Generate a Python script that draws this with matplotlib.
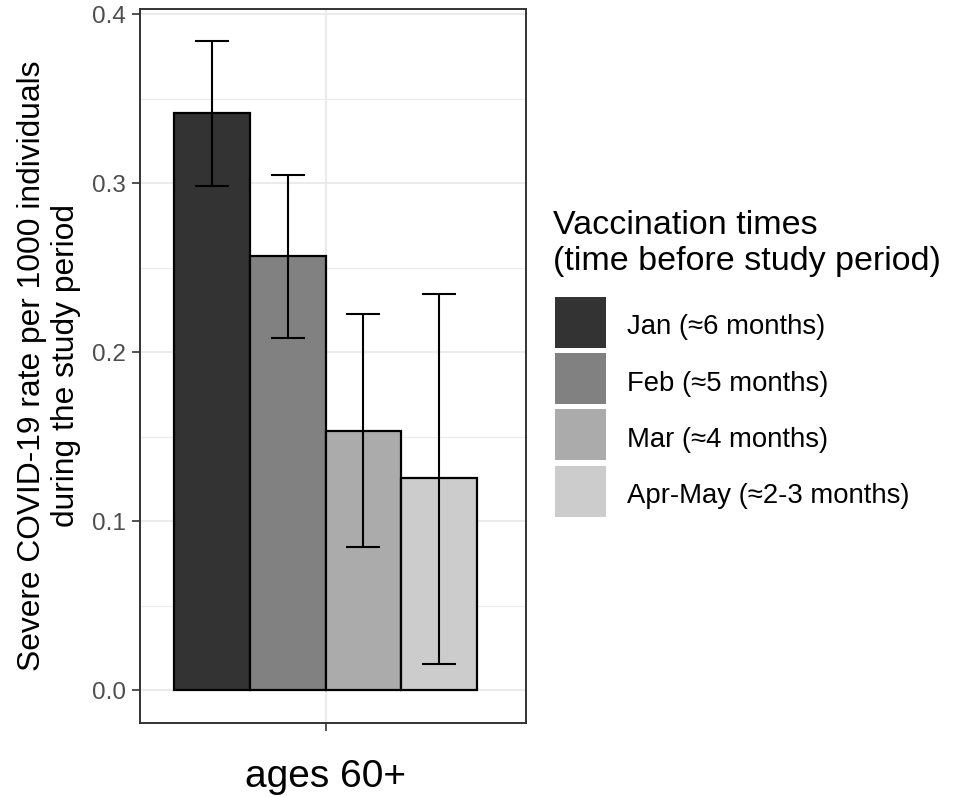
import numpy as np
import matplotlib
matplotlib.use("Agg")
import matplotlib.pyplot as plt
from matplotlib.patches import Rectangle

plt.rcParams['font.family'] = ['Liberation Sans', 'DejaVu Sans']

# data
groups = ["Jan (≈6 months)", "Feb (≈5 months)", "Mar (≈4 months)", "Apr-May (≈2-3 months)"]
rates = [0.3414, 0.2566, 0.1535, 0.1254]
ci_low = [0.298, 0.2082, 0.0846, 0.0156]
ci_high = [0.384, 0.3048, 0.2224, 0.2344]
fills = ["#333333", "#818181", "#ABABAB", "#CCCCCC"]
category = "ages 60+"

W, H = 969, 797
fig = plt.figure(figsize=(W / 100, H / 100), dpi=100)

# panel placement in pixels
left, right, top, bottom = 140, 526, 9, 722.7
ax = fig.add_axes([left / W, 1 - bottom / H, (right - left) / W, (bottom - top) / H])

n = len(groups)
bw = 0.9 / n
xs = 1 + (np.arange(n) - (n - 1) / 2) * bw
rates = np.array(rates)
yerr = np.array([rates - np.array(ci_low), np.array(ci_high) - rates])

ax.bar(xs, rates, width=bw, color=fills, edgecolor="black", linewidth=1.6, zorder=3)
ax.errorbar(xs, rates, yerr=yerr, fmt="none", ecolor="black", elinewidth=1.5,
            capsize=11.9, capthick=1.5, zorder=4)

ax.set_xlim(0.449, 1.595)
ax.set_ylim(-0.0192, 0.403)
ax.set_yticks([0.0, 0.1, 0.2, 0.3, 0.4])
ax.set_yticklabels(["0.0", "0.1", "0.2", "0.3", "0.4"])
ax.set_yticks(np.arange(0.05, 0.4, 0.1), minor=True)
ax.set_xticks([1])
ax.set_xticklabels([category], fontsize=28)

ax.grid(which="major", color="#EBEBEB", linewidth=1.5, zorder=0)
ax.grid(which="minor", axis="y", color="#EBEBEB", linewidth=0.8, zorder=0)
ax.set_axisbelow(True)

for s in ax.spines.values():
    s.set_color("#333333")
    s.set_linewidth(1.4)

ax.tick_params(axis="y", which="major", length=6, width=1.2, color="#333333",
               labelsize=17.5, labelcolor="#4D4D4D", pad=4)
ax.tick_params(axis="y", which="minor", length=0)
ax.tick_params(axis="x", length=6, width=1.2, color="#333333", labelcolor="black", pad=20)

ax.set_ylabel("Severe COVID-19 rate per 1000 individuals\nduring the study period",
              fontsize=22.9, va="center", ha="center", linespacing=1.15)
ax.yaxis.set_label_coords((49 - left) / (right - left), 0.5)

# legend drawn by hand, ggplot style
lx = 553
fig.text(lx / W, 1 - 234 / H, "Vaccination times", fontsize=24.5, va="baseline", ha="left")
fig.text(lx / W, 1 - 270 / H, "(time before study period)", fontsize=24.5, va="baseline", ha="left")
key_top = 297
key_step = 56.2
key_size = 51
for i, (g, c) in enumerate(zip(groups, fills)):
    y0 = key_top + i * key_step
    fig.add_artist(Rectangle((555 / W, 1 - (y0 + key_size) / H), key_size / W, key_size / H,
                             transform=fig.transFigure, facecolor=c, edgecolor="none"))
    fig.text(627 / W, 1 - (y0 + key_size / 2 + 12) / H, g, fontsize=19.8,
             va="baseline", ha="left")

fig.savefig("out.png", dpi=100)
